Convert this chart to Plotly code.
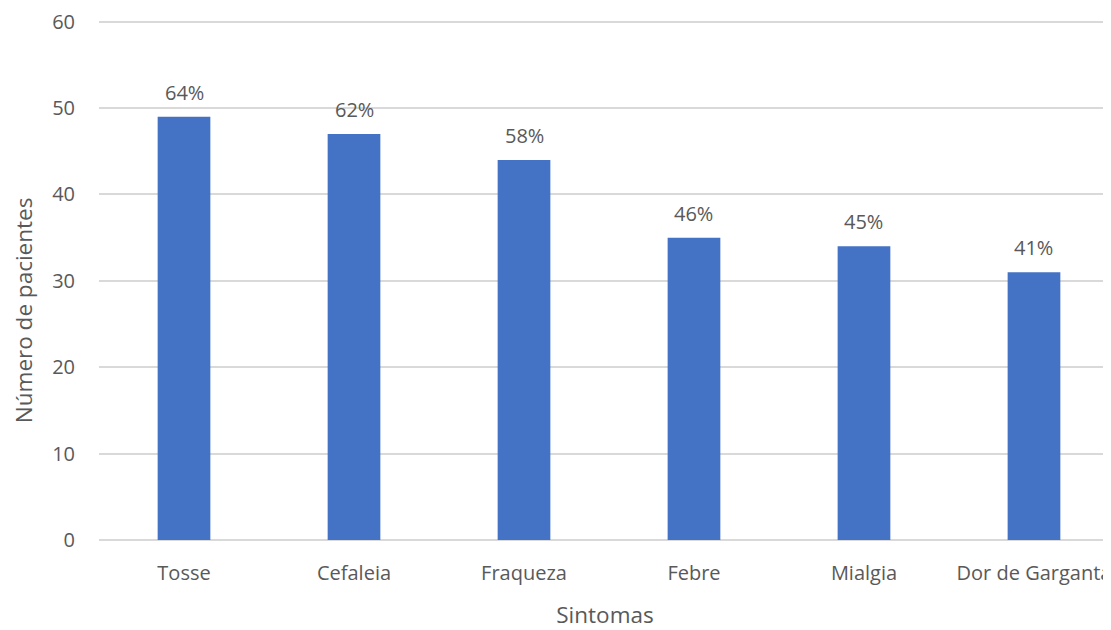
import plotly.graph_objects as go

categories = ["Tosse", "Cefaleia", "Fraqueza", "Febre", "Mialgia", "Dor de Garganta"]
patients = [49, 47, 44, 35, 34, 31]
percent_labels = ["64%", "62%", "58%", "46%", "45%", "41%"]
y_ticks = [0, 10, 20, 30, 40, 50, 60]

font_family = "'Open Sans', Lato, sans-serif"
text_color = "#595959"
grid_color = "#D9D9D9"
bar_color = "#4472C4"

fig = go.Figure()
fig.add_trace(go.Bar(
    x=list(range(len(categories))),
    y=patients,
    width=0.31,
    marker=dict(color=bar_color, line=dict(width=0)),
    hoverinfo="skip",
))

for i, (v, t) in enumerate(zip(patients, percent_labels)):
    fig.add_annotation(
        x=i, y=v, text=t, showarrow=False,
        xanchor="center", yanchor="bottom", yshift=9,
        font=dict(family=font_family, size=20, color=text_color),
    )

# y-axis title (offset along the axis as in the reference)
fig.add_annotation(
    xref="paper", yref="paper", x=0, y=0.442,
    xanchor="center", yanchor="middle", xshift=-76,
    text="Número de pacientes", textangle=-90, showarrow=False,
    font=dict(family=font_family, size=22.5, color=text_color),
)

fig.update_layout(
    width=1111, height=630,
    margin=dict(l=91, r=8, t=12, b=98, autoexpand=False),
    paper_bgcolor="white", plot_bgcolor="white",
    showlegend=False,
    font=dict(family=font_family, size=20, color=text_color),
    xaxis=dict(
        range=[-0.5, 5.453],
        automargin=False,
        tickmode="array",
        tickvals=list(range(len(categories))),
        ticktext=categories,
        showgrid=False, zeroline=False, showline=False,
        ticks="", ticklabelstandoff=19, ticklabeloverflow="allow",
        tickfont=dict(family=font_family, size=20, color=text_color),
        title=dict(text="Sintomas", standoff=22,
                   font=dict(family=font_family, size=22.5, color=text_color)),
    ),
    yaxis=dict(
        range=[0, 60.2],
        automargin=False,
        tickmode="array",
        tickvals=y_ticks,
        showgrid=True, gridcolor=grid_color, gridwidth=1.5,
        zeroline=True, zerolinecolor=grid_color, zerolinewidth=1.5,
        showline=False, ticks="", ticklabelstandoff=23, ticklabeloverflow="allow",
        tickfont=dict(family=font_family, size=20, color=text_color),
    ),
)

fig.write_html("out.html")
